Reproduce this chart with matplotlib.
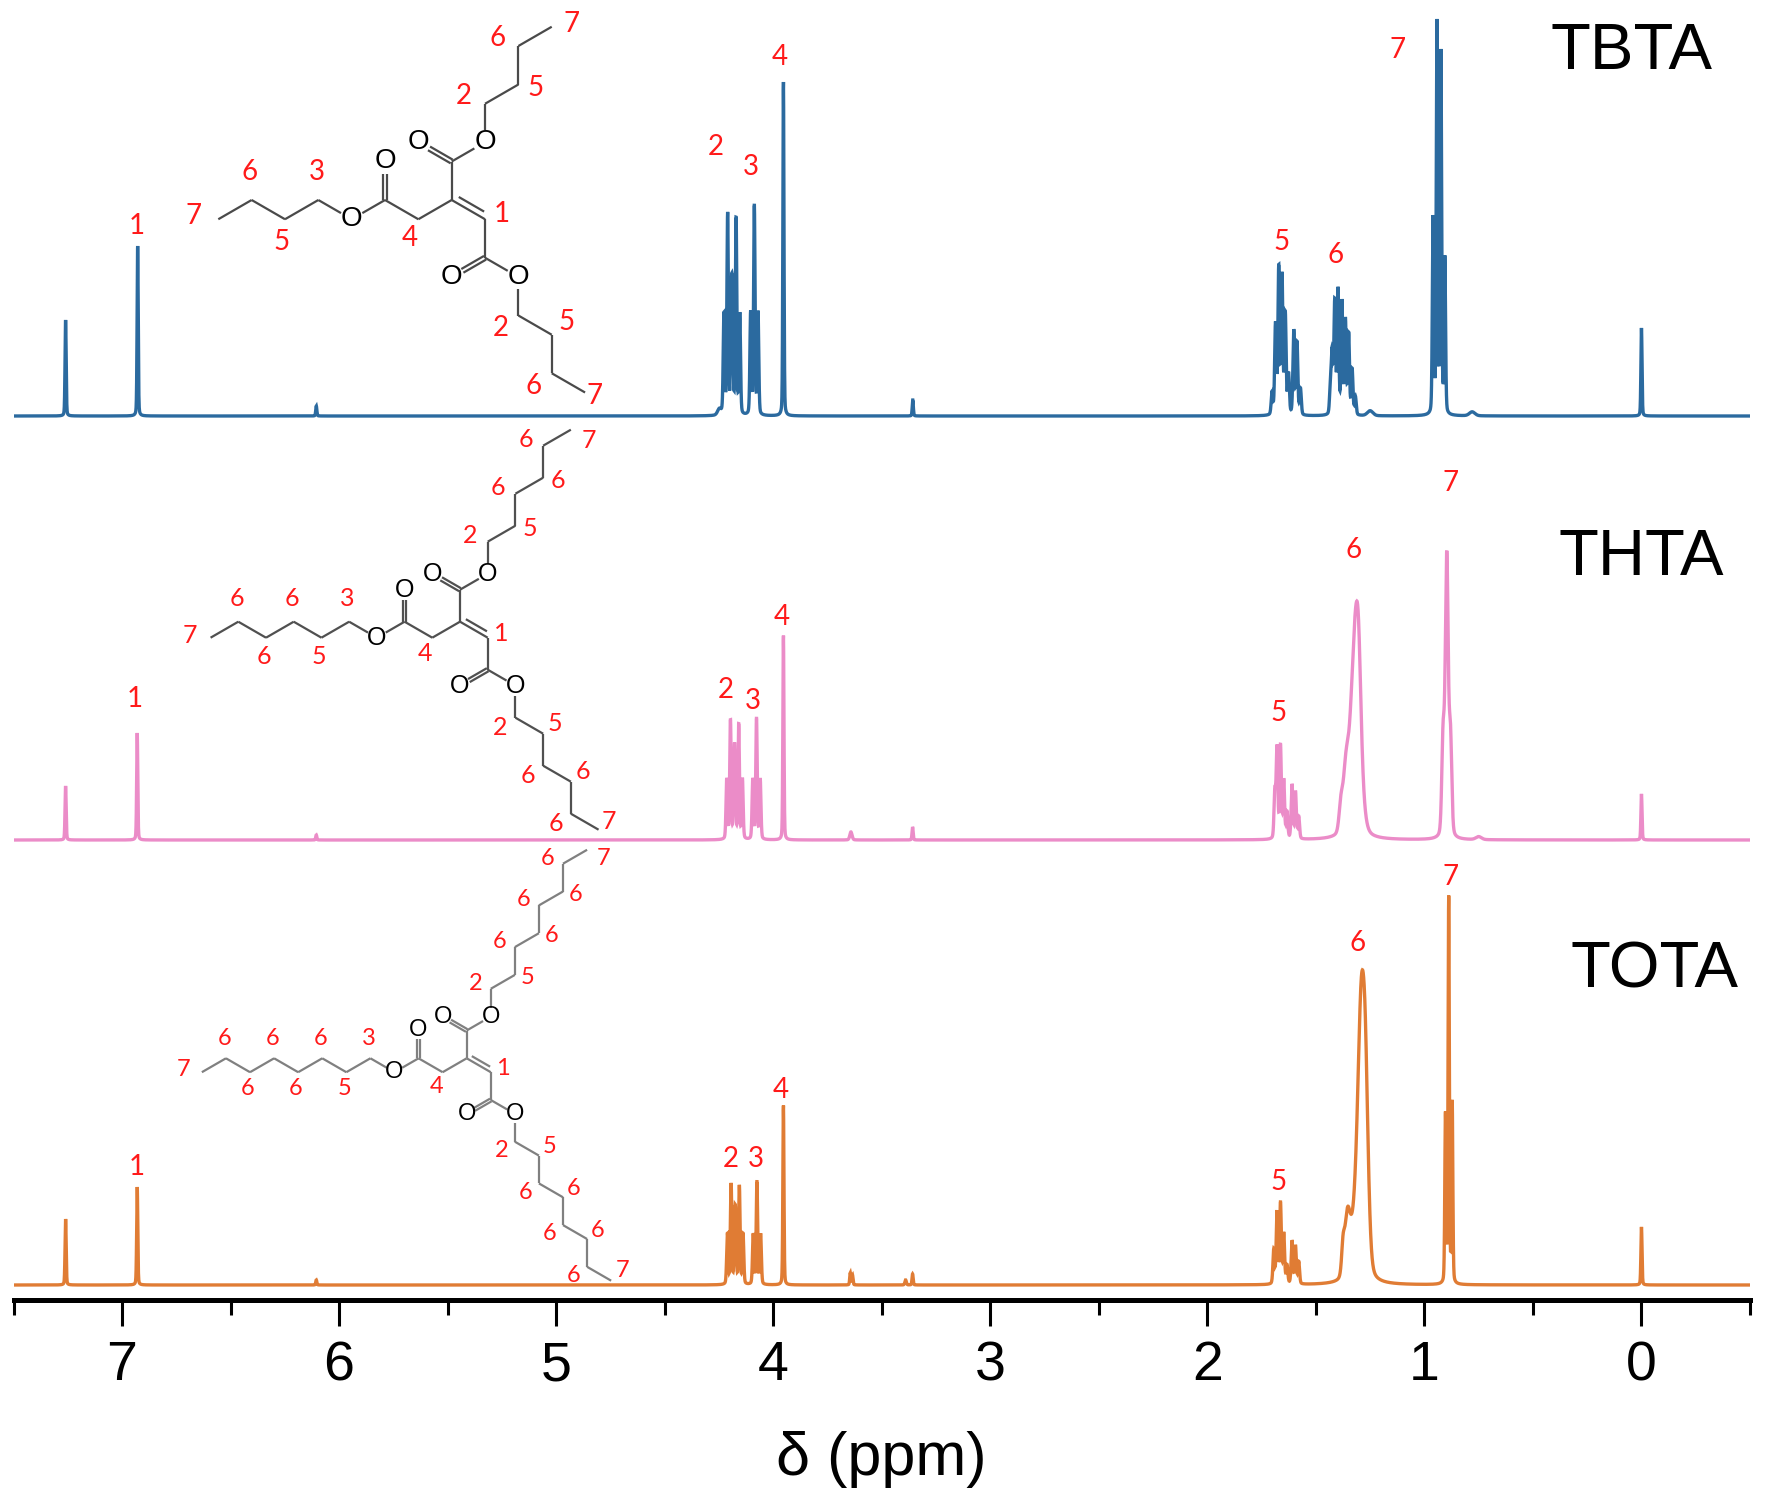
import numpy as np
import matplotlib
matplotlib.use("Agg")
import matplotlib.pyplot as plt
from matplotlib.ticker import MultipleLocator

# ---- spectra: peak lists (ppm, height, fwhm) ----
tbta_ppm = [7.260, 6.928, 6.105, 4.248,
            4.227, 4.210, 4.193, 4.188, 4.171, 4.154,
            4.104, 4.087, 4.070, 3.953, 3.357,
            1.702, 1.686, 1.671, 1.656, 1.641, 1.626, 1.602, 1.587, 1.571,
            1.433, 1.425, 1.413, 1.398, 1.380, 1.364, 1.349, 1.333, 1.318,
            1.250, 0.960, 0.942, 0.924, 0.906, 0.780, 0.000]
tbta_h = [96, 170, 10, 6,
          100, 200, 92, 92, 195, 100,
          102, 208, 102, 335, 16,
          22, 90, 146, 138, 100, 40, 84, 72, 26,
          28, 60, 112, 124, 112, 94, 80, 45, 18,
          5, 195, 390, 360, 155, 4, 88]
tbta_w = [.006, .006, .006, .02,
          .008, .008, .008, .008, .008, .008,
          .008, .008, .008, .006, .006,
          .009, .009, .009, .009, .009, .009, .009, .009, .009,
          .009, .009, .009, .009, .009, .009, .009, .009, .009,
          .03, .008, .008, .008, .008, .03, .006]

thta_ppm = [7.260, 6.930, 6.105,
            4.214, 4.197, 4.180, 4.176, 4.159, 4.142,
            4.094, 4.077, 4.060, 3.953, 3.642, 3.358,
            1.689, 1.679, 1.663, 1.648, 1.633, 1.610, 1.594, 1.579,
            1.318, 1.303, 1.362, 1.385,
            0.914, 0.897, 0.880, 0.750, 0.000]
thta_h = [54, 107, 5,
          60, 118, 58, 56, 114, 60,
          60, 120, 60, 205, 8, 13,
          46, 90, 92, 58, 26, 54, 47, 22,
          205, 60, 55, 25,
          95, 280, 95, 3, 46]
thta_w = [.006, .006, .006,
          .008, .008, .008, .008, .008, .008,
          .008, .008, .008, .006, .012, .006,
          .009, .009, .009, .009, .009, .009, .009, .009,
          .05, .025, .03, .02,
          .014, .016, .014, .03, .006]

tota_ppm = [7.260, 6.930, 6.105,
            4.211, 4.194, 4.177, 4.173, 4.156, 4.139,
            4.092, 4.075, 4.058, 3.953, 3.645, 3.635, 3.390, 3.358,
            1.694, 1.679, 1.663, 1.648, 1.633, 1.610, 1.594, 1.579,
            1.292, 1.272, 1.310, 1.355, 1.375,
            0.903, 0.888, 0.872, 0.000]
tota_h = [66, 98, 5,
          50, 100, 48, 46, 98, 50,
          50, 102, 50, 180, 12, 10, 5, 11,
          34, 72, 80, 50, 18, 43, 38, 22,
          190, 165, 70, 55, 25,
          168, 385, 180, 58]
tota_w = [.006, .006, .006,
          .008, .008, .008, .008, .008, .008,
          .008, .008, .008, .006, .006, .006, .008, .006,
          .009, .009, .009, .009, .009, .009, .009, .009,
          .035, .032, .06, .03, .015,
          .007, .007, .007, .006]

names = ["TBTA", "THTA", "TOTA"]
colors = ["#2b6a9f", "#eb8cc8", "#e07c34"]
offsets = [884, 460, 15]

# peak assignment labels (ppm, height in plot units)
tbta_lab_ppm = [6.93, 4.263, 4.102, 3.972, 1.659, 1.410, 1.122]
tbta_lab_y = [1074, 1153, 1133, 1243, 1058, 1045, 1250]
thta_lab_ppm = [6.94, 4.217, 4.092, 3.960, 1.674, 1.326, 0.878]
thta_lab_y = [601, 610, 599, 683, 587, 750, 817]
tota_lab_ppm = [6.93, 4.194, 4.079, 3.965, 1.674, 1.310, 0.880]
tota_lab_y = [133, 141, 141, 210, 118, 357, 423]
lab_txt = ["1", "2", "3", "4", "5", "6", "7"]

# structure drawings: central carbon position (figure px), bond length, chain carbons
mol_x = [451.7, 460.0, 466.7]
mol_y = [200.0, 621.7, 1058.3]
mol_bond = [38.5, 32.0, 27.8]
mol_chain = [4, 6, 8]
mol_fs = [20, 18, 17]
mol_color = ["#4a4a4a", "#505050", "#808080"]
# offsets of the "7" labels at the chain ends (units of bond length)
mol_up_end = [(0.52, -0.07), (0.57, 0.33), (0.6, 0.32)]
mol_down_end = [(0.24, 0.09), (0.31, -0.26), (0.42, -0.36)]

name_x = [1632, 1641, 1654]
name_y = [52, 558, 970]


def line_shape(x, pos, h, w, eta=0.25):
    g = np.exp(-4 * np.log(2) * ((x - pos) / w) ** 2)
    l = 1.0 / (1.0 + ((x - pos) / (w / 2)) ** 2)
    return h * (eta * l + (1 - eta) * g)


def spectrum(x, ppm, h, w):
    y = np.zeros_like(x)
    for p, hh, ww in zip(ppm, h, w):
        y += line_shape(x, p, hh, ww)
    return y


fig = plt.figure(figsize=(17.68, 15), dpi=100)
ax = fig.add_axes([13.5 / 1768, 200 / 1500, (1750 - 13.5) / 1768, 1300 / 1500])

x = np.linspace(7.5, -0.5, 20001)
peaks = [(tbta_ppm, tbta_h, tbta_w), (thta_ppm, thta_h, thta_w), (tota_ppm, tota_h, tota_w)]
for (pp, hh, ww), c, off in zip(peaks, colors, offsets):
    ax.plot(x, spectrum(x, pp, hh, ww) + off, color=c, lw=2.4, solid_joinstyle="miter")

labs = [(tbta_lab_ppm, tbta_lab_y), (thta_lab_ppm, thta_lab_y), (tota_lab_ppm, tota_lab_y)]
for lp, ly in labs:
    for p, yy, t in zip(lp, ly, lab_txt):
        ax.text(p, yy, t, color="#ff1a1a", fontsize=20, family="Lato", ha="center", va="center")

ax.set_xlim(7.5, -0.5)
ax.set_ylim(0, 1300)
ax.patch.set_alpha(0)
for s in ["left", "right", "top"]:
    ax.spines[s].set_visible(False)
ax.spines["bottom"].set_linewidth(3.6)
ax.set_yticks([])
ax.xaxis.set_major_locator(MultipleLocator(1))
ax.xaxis.set_minor_locator(MultipleLocator(0.5))
ax.tick_params(axis="x", which="major", direction="out", length=19, width=2.2, pad=10,
               labelsize=40)
ax.tick_params(axis="x", which="minor", direction="out", length=11, width=2.2)
tick_font = ["Liberation Sans Narrow", "Liberation Sans"]
ax.set_xticks(range(0, 8))
ax.set_xticklabels([str(i) for i in range(0, 8)], family=tick_font, fontsize=40)
ax.set_xlabel("δ (ppm)", fontsize=44, family=tick_font, labelpad=28)

# overlay in figure pixels for names and structures
ov = fig.add_axes([0, 0, 1, 1])
ov.set_xlim(0, 1768)
ov.set_ylim(1500, 0)
ov.axis("off")
ov.patch.set_alpha(0)

for nm, nx, ny in zip(names, name_x, name_y):
    ov.text(nx, ny, nm, fontsize=47, family="Liberation Sans", ha="center", va="center")

C30 = np.cos(np.pi / 6)
STEP = {"u": (0, -1), "d": (0, 1), "ur": (C30, -0.5), "ul": (-C30, -0.5),
        "dr": (C30, 0.5), "dl": (-C30, 0.5)}

# label offsets (units of bond length) for the two alternating vertex types
LAB_OFF = {
    "up": [(-0.55, -0.2), (0.45, 0.1)],
    "down": [(-0.47, 0.32), (0.38, -0.32)],
    "left": [(-0.05, -0.72), (-0.08, 0.6)],
}


def draw_molecule(x0, y0, L, n, fs, bc, up_end, down_end):
    def mv(p, k):
        return (p[0] + STEP[k][0] * L, p[1] + STEP[k][1] * L)

    lw = 1.6
    red = "#ff1a1a"

    def bond(p, q, op=False, oq=False, off=0.0, trim=(0.0, 0.0)):
        p = np.array(p, float)
        q = np.array(q, float)
        v = q - p
        d = v / np.hypot(*v)
        nrm = np.array([-d[1], d[0]])
        a = p + d * (0.32 * L if op else 0) + v * trim[0] + nrm * off * L
        b = q - d * (0.32 * L if oq else 0) - v * trim[1] + nrm * off * L
        ov.plot([a[0], b[0]], [a[1], b[1]], color=bc, lw=lw, solid_capstyle="butt")

    def oxy(p):
        ov.text(p[0], p[1], "O", fontsize=fs, family="Liberation Sans", ha="center",
                va="center", color="black")

    def lab(p, t, o):
        ov.text(p[0] + o[0] * L, p[1] + o[1] * L, t, fontsize=fs, family="Lato",
                ha="center", va="center", color=red)

    c2 = (x0, y0)
    c1 = mv(c2, "dr")
    bond(c2, c1)
    bond(c2, c1, off=-0.16, trim=(0.12, 0.12))
    lab(c1, "1", (0.43, -0.13))

    cu = mv(c2, "u")
    bond(c2, cu)
    o_d = mv(cu, "ul")
    bond(cu, o_d, oq=True, off=0.055)
    bond(cu, o_d, oq=True, off=-0.055)
    oxy(o_d)
    o_u = mv(cu, "ur")
    bond(cu, o_u, oq=True)
    oxy(o_u)

    cl = mv(c1, "d")
    bond(c1, cl)
    o_d2 = mv(cl, "dl")
    bond(cl, o_d2, oq=True, off=0.055)
    bond(cl, o_d2, oq=True, off=-0.055)
    oxy(o_d2)
    o_l = mv(cl, "dr")
    bond(cl, o_l, oq=True)
    oxy(o_l)

    ch2 = mv(c2, "dl")
    bond(c2, ch2)
    lab(ch2, "4", (-0.23, 0.5))
    cc = mv(ch2, "ul")
    bond(ch2, cc)
    o_d3 = mv(cc, "u")
    bond(cc, o_d3, oq=True, off=0.055)
    bond(cc, o_d3, oq=True, off=-0.055)
    oxy(o_d3)
    o_c = mv(cc, "dl")
    bond(cc, o_c, oq=True)
    oxy(o_c)

    chains = [(o_u, ["u", "ur"], "up", "2", up_end),
              (o_l, ["d", "dr"], "down", "2", down_end),
              (o_c, ["ul", "dl"], "left", "3", (-0.65, -0.08))]
    for start, dirs, key, first, end_off in chains:
        nums = [first, "5"] + ["6"] * (n - 3) + ["7"]
        p = start
        for i in range(n):
            q = mv(p, dirs[i % 2])
            bond(p, q, op=(i == 0))
            if i == n - 1:
                lab(q, nums[i], end_off)
            else:
                lab(q, nums[i], LAB_OFF[key][i % 2])
            p = q


for mx, my, L, n, fs, bc, ue, de in zip(mol_x, mol_y, mol_bond, mol_chain, mol_fs,
                                         mol_color, mol_up_end, mol_down_end):
    draw_molecule(mx, my, L, n, fs, bc, ue, de)

fig.savefig("out.png", dpi=100)
